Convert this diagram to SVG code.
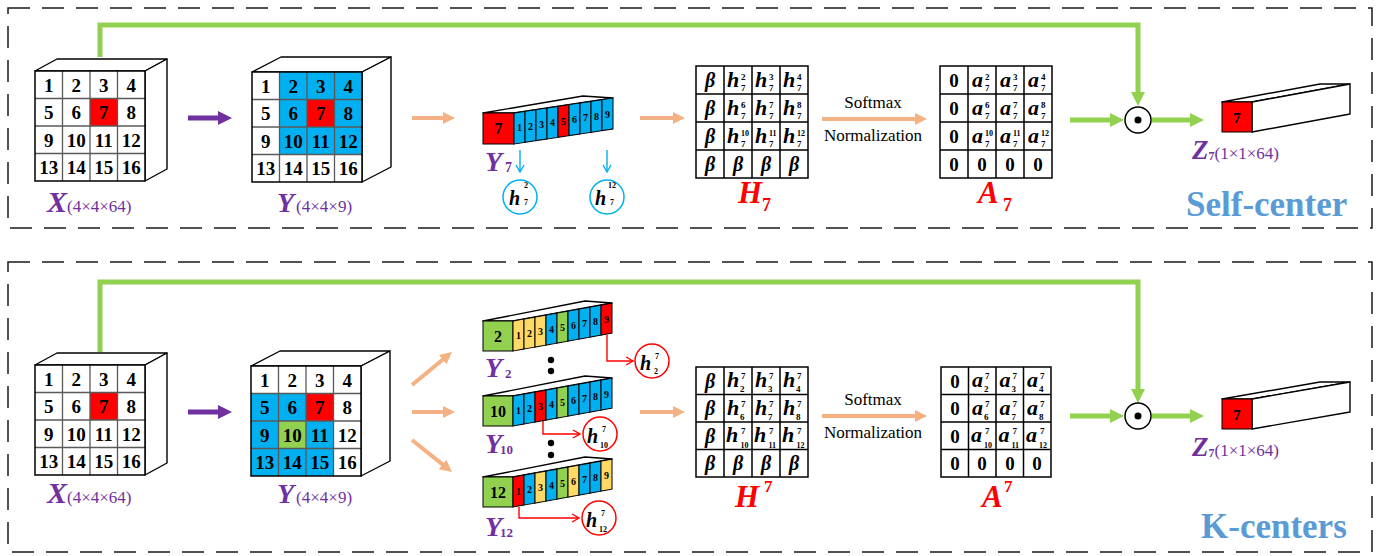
<svg xmlns="http://www.w3.org/2000/svg" width="1390" height="556" viewBox="0 0 1390 556">
<defs>
<style>
text{font-family:'Liberation Serif','Times New Roman',serif}
.n{font-size:19px;font-weight:bold;text-anchor:middle}
.gr{fill:none;stroke:#595959;stroke-width:1.3}
.fr{fill:#fff;stroke:#000;stroke-width:1.4;stroke-linejoin:round}
.ol{fill:none;stroke:#000;stroke-width:1.5}
.b{fill:#00b0f0}.r{fill:#ff0000}.g{fill:#92d050}.y{fill:#ffd966}.w{fill:#fff}
.bc{stroke:#000;stroke-width:1}
.bn{font-size:10px;font-weight:bold;text-anchor:middle}
.fn{font-size:16px;font-weight:bold;text-anchor:middle}
.mg{fill:#fff;stroke:#000;stroke-width:1.5}
.hi{font-size:22px;font-weight:bold;font-style:italic}
.be{font-size:20px;font-weight:bold;font-style:italic;text-anchor:middle}
.zr{font-size:19px;font-weight:bold;text-anchor:middle}
.sm{font-size:9px;font-weight:bold}
.ss{font-size:8px;font-weight:bold}
.ci{font-size:20px;font-weight:bold;font-style:italic}
.cs{font-size:8px;font-weight:bold}
.pu{fill:#7030a0}
.rd{fill:#ff0000}
.lab{font-weight:bold;font-style:italic}
.sx{font-size:17px;font-weight:normal;font-style:normal}
.sub{font-weight:bold;font-style:normal}
.dash{fill:none;stroke:#1a1a1a;stroke-width:1.5;stroke-dasharray:22 12}
.gl{fill:none;stroke:#92d050;stroke-width:5;stroke-linejoin:miter}
.pl{fill:none;stroke:#7030a0;stroke-width:5}
.orl{fill:none;stroke:#f4b183;stroke-width:4}
.bl{fill:none;stroke:#00b0f0;stroke-width:1.4}
.rl{fill:none;stroke:#ff0000;stroke-width:1.4}
.cb{fill:#fff;stroke:#00b0f0;stroke-width:1.5}
.cr{fill:#fff;stroke:#ff0000;stroke-width:1.5}
.od{fill:#fff;stroke:#000;stroke-width:1.5}
.sf{font-size:17px;text-anchor:middle}
.tt{font-size:35px;font-weight:bold;fill:#5b9bd5}
</style>
<marker id="ap" markerUnits="userSpaceOnUse" markerWidth="14" markerHeight="14" viewBox="0 0 14 14" refX="1" refY="7" orient="auto"><path d="M0,0L14,7L0,14z" fill="#7030a0"/></marker>
<marker id="ag" markerUnits="userSpaceOnUse" markerWidth="14" markerHeight="14" viewBox="0 0 14 14" refX="1" refY="7" orient="auto"><path d="M0,0L14,7L0,14z" fill="#92d050"/></marker>
<marker id="ao" markerUnits="userSpaceOnUse" markerWidth="12" markerHeight="12" viewBox="0 0 12 12" refX="1" refY="6" orient="auto"><path d="M0,0L12,6L0,12z" fill="#f4b183"/></marker>
<marker id="ab" markerUnits="userSpaceOnUse" markerWidth="10" markerHeight="10" viewBox="0 0 10 10" refX="9" refY="5" orient="auto"><path d="M2,1L9,5L2,9" fill="none" stroke="#00b0f0" stroke-width="1.4"/></marker>
<marker id="ar" markerUnits="userSpaceOnUse" markerWidth="10" markerHeight="10" viewBox="0 0 10 10" refX="9" refY="5" orient="auto"><path d="M2,1L9,5L2,9" fill="none" stroke="#ff0000" stroke-width="1.4"/></marker>
</defs>
<rect width="1390" height="556" fill="#fff"/>

<g id="panels">
<rect class="dash" x="8" y="8" width="1364" height="220"/>
<rect class="dash" x="8" y="262" width="1364" height="290"/>
</g>

<g id="connectors">
<polyline class="gl" points="100,57 100,25 1138,25 1138,93" marker-end="url(#ag)"/>
<polyline class="gl" points="100,352 100,282 1138,282 1138,390" marker-end="url(#ag)"/>
<line class="gl" x1="1070" y1="120" x2="1111" y2="120" marker-end="url(#ag)"/>
<line class="gl" x1="1152" y1="120" x2="1191" y2="120" marker-end="url(#ag)"/>
<line class="gl" x1="1070" y1="416" x2="1111" y2="416" marker-end="url(#ag)"/>
<line class="gl" x1="1152" y1="416" x2="1191" y2="416" marker-end="url(#ag)"/>
<line class="pl" x1="188" y1="118" x2="219" y2="118" marker-end="url(#ap)"/>
<line class="pl" x1="188" y1="412" x2="219" y2="412" marker-end="url(#ap)"/>
<line class="orl" x1="412" y1="118" x2="444" y2="118" marker-end="url(#ao)"/>
<line class="orl" x1="640" y1="118" x2="674" y2="118" marker-end="url(#ao)"/>
<line class="orl" x1="822" y1="119" x2="916" y2="119" marker-end="url(#ao)"/>
<line class="orl" x1="412" y1="385" x2="443.5" y2="359" marker-end="url(#ao)"/>
<line class="orl" x1="412" y1="412" x2="444" y2="412" marker-end="url(#ao)"/>
<line class="orl" x1="412" y1="440" x2="443.4" y2="465.1" marker-end="url(#ao)"/>
<line class="orl" x1="640" y1="412" x2="674" y2="412" marker-end="url(#ao)"/>
<line class="orl" x1="822" y1="416" x2="916" y2="416" marker-end="url(#ao)"/>
<line class="bl" x1="520" y1="150" x2="520" y2="172" marker-end="url(#ab)"/>
<line class="bl" x1="607" y1="150" x2="607" y2="172" marker-end="url(#ab)"/>
<polyline class="rl" points="607,335 607,361 633,361" marker-end="url(#ar)"/>
<polyline class="rl" points="543,421 543,434 580,434" marker-end="url(#ar)"/>
<polyline class="rl" points="519,507 519,518 579,518" marker-end="url(#ar)"/>
</g>

<g id="softmax-top">
<text class="sf" x="873" y="108">Softmax</text>
<text class="sf" x="873" y="141">Normalization</text>
</g>
<g id="softmax-bottom">
<text class="sf" x="873" y="405">Softmax</text>
<text class="sf" x="873" y="438">Normalization</text>
</g>

<g id="x-top" transform="translate(35,71)">
<polygon class="fr" points="0,0 22,-12 132,-12 110,0"/>
<polygon class="fr" points="110,0 132,-12 132,98 110,110"/>
<rect class="w" width="110" height="110"/>
<rect class="r" x="55" y="27.5" width="27.5" height="27.5"/>
<path class="gr" d="M27.5,0v110M55,0v110M82.5,0v110M0,27.5h110M0,55h110M0,82.5h110"/>
<rect class="ol" width="110" height="110"/>
<text class="n" x="13.75" y="20.5">1</text><text class="n" x="41.25" y="20.5">2</text><text class="n" x="68.75" y="20.5">3</text><text class="n" x="96.25" y="20.5">4</text>
<text class="n" x="13.75" y="48">5</text><text class="n" x="41.25" y="48">6</text><text class="n" x="68.75" y="48">7</text><text class="n" x="96.25" y="48">8</text>
<text class="n" x="13.75" y="75.5">9</text><text class="n" x="41.25" y="75.5">10</text><text class="n" x="68.75" y="75.5">11</text><text class="n" x="96.25" y="75.5">12</text>
<text class="n" x="13.75" y="103">13</text><text class="n" x="41.25" y="103">14</text><text class="n" x="68.75" y="103">15</text><text class="n" x="96.25" y="103">16</text>
<text class="pu" x="12" y="141"><tspan class="lab" font-size="30">X</tspan><tspan class="sx">(4×4×64)</tspan></text>
</g>

<g id="y-top" transform="translate(252,72)">
<polygon class="fr" points="0,0 29,-15 139,-15 110,0"/>
<polygon class="fr" points="110,0 139,-15 139,95 110,110"/>
<rect class="w" width="110" height="110"/>
<rect class="b" x="27.5" y="0" width="82.5" height="82.5"/>
<rect class="r" x="55" y="27.5" width="27.5" height="27.5"/>
<path class="gr" d="M27.5,0v110M55,0v110M82.5,0v110M0,27.5h110M0,55h110M0,82.5h110"/>
<rect class="ol" width="110" height="110"/>
<text class="n" x="13.75" y="20.5">1</text><text class="n" x="41.25" y="20.5">2</text><text class="n" x="68.75" y="20.5">3</text><text class="n" x="96.25" y="20.5">4</text>
<text class="n" x="13.75" y="48">5</text><text class="n" x="41.25" y="48">6</text><text class="n" x="68.75" y="48">7</text><text class="n" x="96.25" y="48">8</text>
<text class="n" x="13.75" y="75.5">9</text><text class="n" x="41.25" y="75.5">10</text><text class="n" x="68.75" y="75.5">11</text><text class="n" x="96.25" y="75.5">12</text>
<text class="n" x="13.75" y="103">13</text><text class="n" x="41.25" y="103">14</text><text class="n" x="68.75" y="103">15</text><text class="n" x="96.25" y="103">16</text>
<text class="pu" x="25" y="140"><tspan class="lab" font-size="28">Y</tspan><tspan class="sx" dx="2">(4×4×9)</tspan></text>
</g>

<g id="y7-bar">
<polygon class="fr" points="483,113 514,113 613,98 583,96"/>
<rect class="r bc" x="483" y="113" width="31" height="31"/>
<g transform="matrix(1,-0.1515,0,1,514,113)">
<rect class="b bc" x="0" width="11" height="31"/><rect class="b bc" x="11" width="11" height="31"/><rect class="b bc" x="22" width="11" height="31"/><rect class="b bc" x="33" width="11" height="31"/><rect class="r bc" x="44" width="11" height="31"/><rect class="b bc" x="55" width="11" height="31"/><rect class="b bc" x="66" width="11" height="31"/><rect class="b bc" x="77" width="11" height="31"/><rect class="b bc" x="88" width="11" height="31"/>
</g>
<text class="fn" x="498.5" y="134">7</text>
<text class="bn" x="519.5" y="131.2">1</text><text class="bn" x="530.5" y="129.5">2</text><text class="bn" x="541.5" y="127.8">3</text><text class="bn" x="552.5" y="126.2">4</text><text class="bn" x="563.5" y="124.5">5</text><text class="bn" x="574.5" y="122.8">6</text><text class="bn" x="585.5" y="121.2">7</text><text class="bn" x="596.5" y="119.5">8</text><text class="bn" x="607.5" y="117.8">9</text>
<text class="pu lab" x="485" y="171" font-size="28">Y</text><text class="pu sub" x="505" y="172" font-size="14">7</text>
</g>

<g id="h72-top">
<circle class="cb" cx="520" cy="197" r="17"/>
<text class="ci" x="509" y="205">h</text><text class="cs" x="524" y="188">2</text><text class="cs" x="524" y="205">7</text>
</g>
<g id="h712-top">
<circle class="cb" cx="607" cy="197" r="17"/>
<text class="ci" x="595" y="205">h</text><text class="cs" x="608" y="188">12</text><text class="cs" x="610" y="205">7</text>
</g>

<g id="h7-top" transform="translate(696,66)">
<rect class="mg" width="112" height="112"/>
<path class="ol" d="M28,0v112M56,0v112M84,0v112M0,28h112M0,56h112M0,84h112"/>
<text class="be" x="14" y="21">β</text><text class="be" x="14" y="49">β</text><text class="be" x="14" y="77">β</text><text class="be" x="14" y="105">β</text><text class="be" x="42" y="105">β</text><text class="be" x="70" y="105">β</text><text class="be" x="98" y="105">β</text>
<text class="hi" x="31" y="21">h</text><text class="sm" x="45" y="14">2</text><text class="sm" x="45" y="25">7</text>
<text class="hi" x="59" y="21">h</text><text class="sm" x="73" y="14">3</text><text class="sm" x="73" y="25">7</text>
<text class="hi" x="87" y="21">h</text><text class="sm" x="101" y="14">4</text><text class="sm" x="101" y="25">7</text>
<text class="hi" x="31" y="49">h</text><text class="sm" x="45" y="42">6</text><text class="sm" x="45" y="53">7</text>
<text class="hi" x="59" y="49">h</text><text class="sm" x="73" y="42">7</text><text class="sm" x="73" y="53">7</text>
<text class="hi" x="87" y="49">h</text><text class="sm" x="101" y="42">8</text><text class="sm" x="101" y="53">7</text>
<text class="hi" x="31" y="77">h</text><text class="ss" x="45" y="70">10</text><text class="sm" x="45" y="81">7</text>
<text class="hi" x="59" y="77">h</text><text class="ss" x="73" y="70">11</text><text class="sm" x="73" y="81">7</text>
<text class="hi" x="87" y="77">h</text><text class="ss" x="101" y="70">12</text><text class="sm" x="101" y="81">7</text>
<text class="rd lab" x="42" y="137" font-size="31">H</text><text class="rd sub" x="66" y="145" font-size="18" font-style="italic">7</text>
</g>

<g id="a7-top" transform="translate(940,66)">
<rect class="mg" width="112" height="112"/>
<path class="ol" d="M28,0v112M56,0v112M84,0v112M0,28h112M0,56h112M0,84h112"/>
<text class="zr" x="14" y="21">0</text><text class="zr" x="14" y="49">0</text><text class="zr" x="14" y="77">0</text><text class="zr" x="14" y="105">0</text><text class="zr" x="42" y="105">0</text><text class="zr" x="70" y="105">0</text><text class="zr" x="98" y="105">0</text>
<text class="hi" x="32" y="21">a</text><text class="sm" x="45" y="14">2</text><text class="sm" x="45" y="25">7</text>
<text class="hi" x="60" y="21">a</text><text class="sm" x="73" y="14">3</text><text class="sm" x="73" y="25">7</text>
<text class="hi" x="88" y="21">a</text><text class="sm" x="101" y="14">4</text><text class="sm" x="101" y="25">7</text>
<text class="hi" x="32" y="49">a</text><text class="sm" x="45" y="42">6</text><text class="sm" x="45" y="53">7</text>
<text class="hi" x="60" y="49">a</text><text class="sm" x="73" y="42">7</text><text class="sm" x="73" y="53">7</text>
<text class="hi" x="88" y="49">a</text><text class="sm" x="101" y="42">8</text><text class="sm" x="101" y="53">7</text>
<text class="hi" x="32" y="77">a</text><text class="ss" x="45" y="70">10</text><text class="sm" x="45" y="81">7</text>
<text class="hi" x="60" y="77">a</text><text class="ss" x="73" y="70">11</text><text class="sm" x="73" y="81">7</text>
<text class="hi" x="88" y="77">a</text><text class="ss" x="101" y="70">12</text><text class="sm" x="101" y="81">7</text>
<text class="rd lab" x="38" y="137" font-size="31">A</text><text class="rd sub" x="63" y="145" font-size="18" font-style="italic">7</text>
</g>

<g id="odot-top">
<circle class="od" cx="1138" cy="120" r="13"/><circle cx="1138" cy="120" r="3.5" fill="#000"/>
</g>

<g id="z-top">
<polygon class="fr" points="1222,102 1252,102 1350,84 1320,84"/>
<polygon class="fr" points="1252,102 1350,84 1350,114 1252,132"/>
<rect class="r bc" x="1222" y="102" width="30" height="30"/>
<text x="1237" y="123" font-size="15" font-weight="bold" text-anchor="middle">7</text>
<text class="pu" x="1192" y="159"><tspan class="lab" font-size="27">Z</tspan><tspan class="sub" font-size="12" dy="1">7</tspan><tspan class="sx" dy="-1">(1×1×64)</tspan></text>
</g>

<text class="tt" x="1186" y="216">Self-center</text>

<g id="x-bottom" transform="translate(35,365)">
<polygon class="fr" points="0,0 22,-12 132,-12 110,0"/>
<polygon class="fr" points="110,0 132,-12 132,98 110,110"/>
<rect class="w" width="110" height="110"/>
<rect class="r" x="55" y="27.5" width="27.5" height="27.5"/>
<path class="gr" d="M27.5,0v110M55,0v110M82.5,0v110M0,27.5h110M0,55h110M0,82.5h110"/>
<rect class="ol" width="110" height="110"/>
<text class="n" x="13.75" y="20.5">1</text><text class="n" x="41.25" y="20.5">2</text><text class="n" x="68.75" y="20.5">3</text><text class="n" x="96.25" y="20.5">4</text>
<text class="n" x="13.75" y="48">5</text><text class="n" x="41.25" y="48">6</text><text class="n" x="68.75" y="48">7</text><text class="n" x="96.25" y="48">8</text>
<text class="n" x="13.75" y="75.5">9</text><text class="n" x="41.25" y="75.5">10</text><text class="n" x="68.75" y="75.5">11</text><text class="n" x="96.25" y="75.5">12</text>
<text class="n" x="13.75" y="103">13</text><text class="n" x="41.25" y="103">14</text><text class="n" x="68.75" y="103">15</text><text class="n" x="96.25" y="103">16</text>
<text class="pu" x="12" y="138"><tspan class="lab" font-size="30">X</tspan><tspan class="sx">(4×4×64)</tspan></text>
</g>

<g id="y-bottom" transform="translate(251,366)">
<polygon class="fr" points="0,0 29,-15 139,-15 110,0"/>
<polygon class="fr" points="110,0 139,-15 139,95 110,110"/>
<rect class="w" width="110" height="110"/>
<rect class="b" x="0" y="27.5" width="82.5" height="82.5"/>
<rect class="r" x="55" y="27.5" width="27.5" height="27.5"/>
<rect class="g" x="27.5" y="55" width="27.5" height="27.5"/>
<path class="gr" d="M27.5,0v110M55,0v110M82.5,0v110M0,27.5h110M0,55h110M0,82.5h110"/>
<rect class="ol" width="110" height="110"/>
<text class="n" x="13.75" y="20.5">1</text><text class="n" x="41.25" y="20.5">2</text><text class="n" x="68.75" y="20.5">3</text><text class="n" x="96.25" y="20.5">4</text>
<text class="n" x="13.75" y="48">5</text><text class="n" x="41.25" y="48">6</text><text class="n" x="68.75" y="48">7</text><text class="n" x="96.25" y="48">8</text>
<text class="n" x="13.75" y="75.5">9</text><text class="n" x="41.25" y="75.5">10</text><text class="n" x="68.75" y="75.5">11</text><text class="n" x="96.25" y="75.5">12</text>
<text class="n" x="13.75" y="103">13</text><text class="n" x="41.25" y="103">14</text><text class="n" x="68.75" y="103">15</text><text class="n" x="96.25" y="103">16</text>
<text class="pu" x="26" y="137"><tspan class="lab" font-size="28">Y</tspan><tspan class="sx" dx="2">(4×4×9)</tspan></text>
</g>

<g id="y2-bar">
<polygon class="fr" points="483,321 513,321 612,303 585,301"/>
<rect class="g bc" x="483" y="321" width="30" height="30"/>
<g transform="matrix(1,-0.18,0,1,513,321)">
<rect class="y bc" x="0" width="11" height="30"/><rect class="y bc" x="11" width="11" height="30"/><rect class="y bc" x="22" width="11" height="30"/><rect class="b bc" x="33" width="11" height="30"/><rect class="g bc" x="44" width="11" height="30"/><rect class="b bc" x="55" width="11" height="30"/><rect class="b bc" x="66" width="11" height="30"/><rect class="b bc" x="77" width="11" height="30"/><rect class="r bc" x="88" width="11" height="30"/>
</g>
<text class="fn" x="498" y="342">2</text>
<text class="bn" x="518.5" y="338.5">1</text><text class="bn" x="529.5" y="336.5">2</text><text class="bn" x="540.5" y="334.5">3</text><text class="bn" x="551.5" y="332.6">4</text><text class="bn" x="562.5" y="330.6">5</text><text class="bn" x="573.5" y="328.6">6</text><text class="bn" x="584.5" y="326.6">7</text><text class="bn" x="595.5" y="324.7">8</text><text class="bn" x="606.5" y="322.7">9</text>
<text class="pu lab" x="485" y="377" font-size="28">Y</text><text class="pu sub" x="505" y="378" font-size="13">2</text>
</g>

<g id="dots">
<circle cx="551" cy="360" r="3.2"/><circle cx="551" cy="371" r="3.2"/>
<circle cx="551" cy="443" r="3.2"/><circle cx="551" cy="455" r="3.2"/>
</g>

<g id="y10-bar">
<polygon class="fr" points="483,396 513,396 612,378 585,376"/>
<rect class="g bc" x="483" y="396" width="30" height="30"/>
<g transform="matrix(1,-0.18,0,1,513,396)">
<rect class="b bc" x="0" width="11" height="30"/><rect class="b bc" x="11" width="11" height="30"/><rect class="r bc" x="22" width="11" height="30"/><rect class="b bc" x="33" width="11" height="30"/><rect class="g bc" x="44" width="11" height="30"/><rect class="b bc" x="55" width="11" height="30"/><rect class="b bc" x="66" width="11" height="30"/><rect class="b bc" x="77" width="11" height="30"/><rect class="b bc" x="88" width="11" height="30"/>
</g>
<text class="fn" x="498" y="417">10</text>
<text class="bn" x="518.5" y="413.5">1</text><text class="bn" x="529.5" y="411.5">2</text><text class="bn" x="540.5" y="409.6">3</text><text class="bn" x="551.5" y="407.6">4</text><text class="bn" x="562.5" y="405.6">5</text><text class="bn" x="573.5" y="403.6">6</text><text class="bn" x="584.5" y="401.6">7</text><text class="bn" x="595.5" y="399.7">8</text><text class="bn" x="606.5" y="397.7">9</text>
<text class="pu lab" x="485" y="453" font-size="28">Y</text><text class="pu sub" x="500" y="454" font-size="13">10</text>
</g>

<g id="y12-bar">
<polygon class="fr" points="483,477 513,477 612,459 585,457"/>
<rect class="g bc" x="483" y="477" width="30" height="30"/>
<g transform="matrix(1,-0.18,0,1,513,477)">
<rect class="r bc" x="0" width="11" height="30"/><rect class="b bc" x="11" width="11" height="30"/><rect class="y bc" x="22" width="11" height="30"/><rect class="b bc" x="33" width="11" height="30"/><rect class="g bc" x="44" width="11" height="30"/><rect class="y bc" x="55" width="11" height="30"/><rect class="b bc" x="66" width="11" height="30"/><rect class="b bc" x="77" width="11" height="30"/><rect class="y bc" x="88" width="11" height="30"/>
</g>
<text class="fn" x="498" y="498">12</text>
<text class="bn" x="518.5" y="494.5">1</text><text class="bn" x="529.5" y="492.5">2</text><text class="bn" x="540.5" y="490.6">3</text><text class="bn" x="551.5" y="488.6">4</text><text class="bn" x="562.5" y="486.6">5</text><text class="bn" x="573.5" y="484.6">6</text><text class="bn" x="584.5" y="482.6">7</text><text class="bn" x="595.5" y="480.7">8</text><text class="bn" x="606.5" y="478.7">9</text>
<text class="pu lab" x="485" y="536" font-size="28">Y</text><text class="pu sub" x="500" y="537" font-size="13">12</text>
</g>

<g id="h27-bottom">
<circle class="cr" cx="652" cy="361" r="17"/>
<text class="ci" x="640" y="370">h</text><text class="cs" x="655" y="359">7</text><text class="cs" x="654" y="374">2</text>
</g>
<g id="h107-bottom">
<circle class="cr" cx="600" cy="434" r="17"/>
<text class="ci" x="587" y="443">h</text><text class="cs" x="602" y="432">7</text><text class="cs" x="600" y="448">10</text>
</g>
<g id="h127-bottom">
<circle class="cr" cx="599" cy="518" r="17"/>
<text class="ci" x="586" y="527">h</text><text class="cs" x="601" y="516">7</text><text class="cs" x="599" y="532">12</text>
</g>

<g id="h7-bottom" transform="translate(696,367)">
<rect class="mg" width="112" height="110"/>
<path class="ol" d="M28,0v110M56,0v110M84,0v110M0,27.5h112M0,55h112M0,82.5h112"/>
<text class="be" x="14" y="21">β</text><text class="be" x="14" y="48">β</text><text class="be" x="14" y="76">β</text><text class="be" x="14" y="103">β</text><text class="be" x="42" y="103">β</text><text class="be" x="70" y="103">β</text><text class="be" x="98" y="103">β</text>
<text class="hi" x="31" y="20">h</text><text class="sm" x="45" y="12">7</text><text class="sm" x="44" y="25">2</text>
<text class="hi" x="59" y="20">h</text><text class="sm" x="73" y="12">7</text><text class="sm" x="72" y="25">3</text>
<text class="hi" x="87" y="20">h</text><text class="sm" x="101" y="12">7</text><text class="sm" x="100" y="25">4</text>
<text class="hi" x="31" y="47.5">h</text><text class="sm" x="45" y="39.5">7</text><text class="sm" x="44" y="52.5">6</text>
<text class="hi" x="59" y="47.5">h</text><text class="sm" x="73" y="39.5">7</text><text class="sm" x="72" y="52.5">7</text>
<text class="hi" x="87" y="47.5">h</text><text class="sm" x="101" y="39.5">7</text><text class="sm" x="100" y="52.5">8</text>
<text class="hi" x="30" y="75">h</text><text class="sm" x="45" y="67">7</text><text class="ss" x="44.5" y="81">10</text>
<text class="hi" x="58" y="75">h</text><text class="sm" x="73" y="67">7</text><text class="ss" x="72.5" y="81">11</text>
<text class="hi" x="86" y="75">h</text><text class="sm" x="101" y="67">7</text><text class="ss" x="100.5" y="81">12</text>
<text class="rd lab" x="39" y="140" font-size="31">H</text><text class="rd sub" x="68" y="125" font-size="17" font-style="italic">7</text>
</g>

<g id="a7-bottom" transform="translate(941,367)">
<rect class="mg" width="110" height="110"/>
<path class="ol" d="M27.5,0v110M55,0v110M82.5,0v110M0,27.5h110M0,55h110M0,82.5h110"/>
<text class="zr" x="14" y="21">0</text><text class="zr" x="14" y="48">0</text><text class="zr" x="14" y="76">0</text><text class="zr" x="14" y="103">0</text><text class="zr" x="41" y="103">0</text><text class="zr" x="69" y="103">0</text><text class="zr" x="96" y="103">0</text>
<text class="hi" x="31" y="20">a</text><text class="sm" x="44" y="12">7</text><text class="sm" x="43" y="25">2</text>
<text class="hi" x="58.5" y="20">a</text><text class="sm" x="71.5" y="12">7</text><text class="sm" x="70.5" y="25">3</text>
<text class="hi" x="86" y="20">a</text><text class="sm" x="99" y="12">7</text><text class="sm" x="98" y="25">4</text>
<text class="hi" x="31" y="47.5">a</text><text class="sm" x="44" y="39.5">7</text><text class="sm" x="43" y="52.5">6</text>
<text class="hi" x="58.5" y="47.5">a</text><text class="sm" x="71.5" y="39.5">7</text><text class="sm" x="70.5" y="52.5">7</text>
<text class="hi" x="86" y="47.5">a</text><text class="sm" x="99" y="39.5">7</text><text class="sm" x="98" y="52.5">8</text>
<text class="hi" x="30" y="75">a</text><text class="sm" x="44" y="67">7</text><text class="ss" x="43" y="81">10</text>
<text class="hi" x="57.5" y="75">a</text><text class="sm" x="71.5" y="67">7</text><text class="ss" x="70.5" y="81">11</text>
<text class="hi" x="85" y="75">a</text><text class="sm" x="99" y="67">7</text><text class="ss" x="98" y="81">12</text>
<text class="rd lab" x="41" y="140" font-size="31">A</text><text class="rd sub" x="63" y="125" font-size="17" font-style="italic">7</text>
</g>

<g id="odot-bottom">
<circle class="od" cx="1138" cy="416" r="13"/><circle cx="1138" cy="416" r="3.5" fill="#000"/>
</g>

<g id="z-bottom">
<polygon class="fr" points="1222,399 1252,399 1350,382 1320,382"/>
<polygon class="fr" points="1252,399 1350,382 1350,412 1252,429"/>
<rect class="r bc" x="1222" y="399" width="30" height="30"/>
<text x="1237" y="420" font-size="15" font-weight="bold" text-anchor="middle">7</text>
<text class="pu" x="1192" y="456"><tspan class="lab" font-size="27">Z</tspan><tspan class="sub" font-size="12" dy="1">7</tspan><tspan class="sx" dy="-1">(1×1×64)</tspan></text>
</g>

<text class="tt" x="1201" y="538">K-centers</text>
</svg>
